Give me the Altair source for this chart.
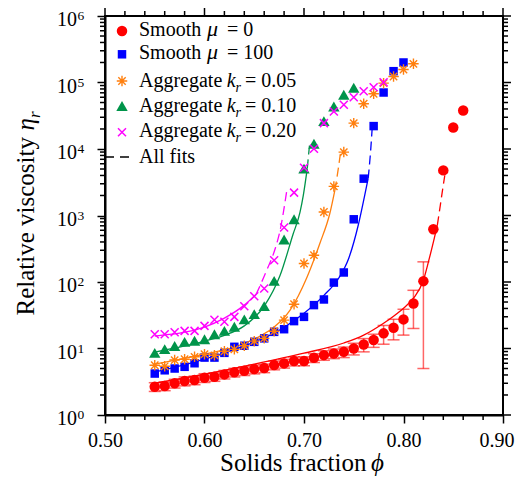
import altair as alt
import pandas as pd

FONT = "Liberation Serif"

# ---------------- data ----------------
phi_smooth0 = [0.55, 0.56, 0.57, 0.58, 0.59, 0.60, 0.61, 0.62, 0.63, 0.64, 0.65, 0.66,
               0.67, 0.68, 0.69, 0.70, 0.71, 0.72, 0.73, 0.74, 0.75, 0.76, 0.77, 0.78,
               0.79, 0.80, 0.81, 0.82, 0.83, 0.84, 0.85, 0.86]
eta_smooth0 = [2.66, 2.72, 2.99, 3.24, 3.35, 3.63, 3.76, 4.08, 4.38, 4.62, 4.9, 5.08,
               5.63, 5.97, 6.47, 6.5, 7.25, 7.95, 8.43, 8.9, 10.0, 11.5, 13.4, 16.9,
               20.5, 27.4, 47.5, 103, 621, 4770, 21100, 38000]
# error bars (+/-) for the first 28 points (0.55 ... 0.82)
err_smooth0 = [0.4, 0.4, 0.45, 0.5, 0.5, 0.55, 0.55, 0.6, 0.65, 0.7, 0.75, 0.75,
               0.85, 0.9, 1.0, 1.0, 1.1, 1.3, 1.4, 1.6, 2.0, 2.6, 3.0, 5.3,
               7.0, 11.5, 27.5, 98]

phi_smooth100 = [0.55, 0.56, 0.57, 0.58, 0.59, 0.60, 0.61, 0.62, 0.63, 0.64, 0.65, 0.66,
                 0.67, 0.68, 0.69, 0.70, 0.71, 0.72, 0.73, 0.74, 0.75, 0.76, 0.77, 0.78,
                 0.79, 0.80]
eta_smooth100 = [4.2, 4.7, 5.0, 5.3, 6.0, 7.3, 7.3, 8.6, 10.6, 11.0, 12.6, 14.2,
                 17.8, 19.5, 25.8, 29.9, 44.9, 54.6, 98, 139, 877, 3580, 22100, 70700,
                 148000, 200000]

phi_agg005 = [0.55, 0.56, 0.57, 0.58, 0.59, 0.60, 0.61, 0.62, 0.63, 0.64, 0.65, 0.66,
              0.67, 0.68, 0.69, 0.70, 0.71, 0.72, 0.73, 0.74, 0.75, 0.76, 0.77, 0.78,
              0.79, 0.80, 0.81]
eta_agg005 = [5.6, 5.4, 6.7, 6.9, 7.5, 8.2, 7.9, 9.1, 9.7, 11.0, 12.9, 14.2,
              18.2, 26.7, 46.4, 190, 253, 1130, 2740, 8980, 24500, 47900, 67600, 97700,
              123000, 157000, 191000]

phi_agg010 = [0.55, 0.56, 0.57, 0.58, 0.59, 0.60, 0.61, 0.62, 0.63, 0.64, 0.65, 0.66,
              0.67, 0.68, 0.69, 0.70, 0.71, 0.72, 0.73, 0.74, 0.75]
eta_agg010 = [8.6, 9.8, 10.9, 12.6, 13.1, 13.8, 16.4, 18.4, 21.2, 27.4, 32.9, 43.3,
              104, 435, 877, 5060, 12000, 26200, 43600, 65300, 83200]

phi_agg020 = [0.55, 0.56, 0.57, 0.58, 0.59, 0.60, 0.61, 0.62, 0.63, 0.64, 0.65, 0.66,
              0.67, 0.68, 0.69, 0.70, 0.71, 0.72, 0.73, 0.74, 0.75, 0.76, 0.77, 0.78]
eta_agg020 = [16.4, 16.4, 17.5, 18.4, 18.4, 21.9, 27.0, 25.2, 29.9, 43.3, 61, 80,
              212, 658, 2208, 5240, 10100, 24500, 36700, 46200, 60200, 74000, 85000, 101000]

# fitted curves (solid part, then dashed extrapolation)
fit_s0_phi = [0.55, 0.60, 0.65, 0.70, 0.74, 0.76, 0.78, 0.79, 0.80, 0.81, 0.82, 0.826, 0.8305, 0.834]
fit_s0_eta = [3.0, 4.1, 5.8, 8.5, 12.1, 15.9, 24, 30.6, 40.4, 57, 106, 228, 425, 715]
fit_s0_dash_phi = [0.834, 0.837, 0.8395, 0.8415]
fit_s0_dash_eta = [715, 1420, 2570, 4000]

fit_s100_phi = [0.55, 0.60, 0.65, 0.67, 0.685, 0.70, 0.72, 0.735, 0.745, 0.7545, 0.761, 0.7645]
fit_s100_eta = [4.42, 6.93, 12.5, 17, 23.4, 33.9, 63, 115, 228, 713, 2010, 3620]
fit_s100_dash_phi = [0.7645, 0.767, 0.7685]
fit_s100_dash_eta = [3620, 9530, 20400]

fit_a005_phi = [0.55, 0.60, 0.63, 0.656, 0.67, 0.686, 0.703, 0.716, 0.726, 0.731]
fit_a005_eta = [5.83, 8.24, 10.5, 15.4, 21, 37.7, 118, 383, 1080, 2390]
fit_a005_dash_phi = [0.731, 0.7345, 0.737]
fit_a005_dash_eta = [2390, 5110, 9530]

fit_a010_phi = [0.55, 0.60, 0.62, 0.64, 0.66, 0.676, 0.689, 0.696, 0.6993, 0.7033]
fit_a010_eta = [8.83, 12.9, 15.8, 21.9, 43.3, 126, 522, 1120, 2010, 5110]
fit_a010_dash_phi = [0.7033, 0.7055]
fit_a010_dash_eta = [5110, 11300]

fit_a020_phi = [0.55, 0.60, 0.62, 0.64, 0.652]
fit_a020_eta = [15.4, 21, 28.6, 44.9, 65.6]
fit_a020_dash_phi = [0.652, 0.6625, 0.671, 0.676, 0.6826]
fit_a020_dash_eta = [65.6, 150, 316, 600, 2310]

x_major = [0.50, 0.60, 0.70, 0.80, 0.90]
x_minor = [0.52, 0.54, 0.56, 0.58, 0.62, 0.64, 0.66, 0.68, 0.72, 0.74, 0.76, 0.78,
           0.82, 0.84, 0.86, 0.88]
y_major = [1, 10, 100, 1000, 10000, 100000, 1000000]
y_exponents = ["0", "1", "2", "3", "4", "5", "6"]
y_minor = [m * d for d in [1, 10, 100, 1000, 10000, 100000] for m in range(2, 10)]

# ---------------- styling ----------------
RED, BLUE, ORANGE, GREEN, MAGENTA = "#ff0000", "#0000ff", "#ff7f0e", "#00944a", "#ff00ff"
ASTERISK = "M-1,0L1,0M0,-1L0,1M-0.7,-0.7L0.7,0.7M-0.7,0.7L0.7,-0.7"
XSHAPE = "M-1,-1L1,1M-1,1L1,-1"
HLINE = "M-1,0L1,0"

W, H = 398, 399

xs = alt.Scale(domain=[0.5, 0.9], nice=False, zero=False)
ys = alt.Scale(type="log", domain=[1, 1e6], nice=False)
xax = alt.Axis(values=x_major, format=".2f", tickSize=8, tickWidth=1.5, tickColor="black",
               domainColor="black", domainWidth=2, labelFont=FONT, labelFontSize=20,
               labelColor="black", labelPadding=7, labelFlush=False, labelBound=False,
               labelAlign={"expr": "datum.value > 0.89 ? 'right' : 'center'"},
               labelOffset={"expr": "datum.value > 0.89 ? 11 : 0"},
               grid=False, title=None)
yax = alt.Axis(values=y_major, tickSize=8, tickWidth=1.5, tickColor="black",
               domainColor="black", domainWidth=2, labels=False, grid=False, title=None)


def X(f="phi"):
    return alt.X(f"{f}:Q", scale=xs, axis=xax)


def Y(f="eta"):
    return alt.Y(f"{f}:Q", scale=ys, axis=yax)


def pts(phi, eta):
    return pd.DataFrame({"phi": phi, "eta": eta})


layers = []

# fit lines
fits = [
    (fit_s0_phi, fit_s0_eta, fit_s0_dash_phi, fit_s0_dash_eta, RED),
    (fit_s100_phi, fit_s100_eta, fit_s100_dash_phi, fit_s100_dash_eta, BLUE),
    (fit_a005_phi, fit_a005_eta, fit_a005_dash_phi, fit_a005_dash_eta, ORANGE),
    (fit_a010_phi, fit_a010_eta, fit_a010_dash_phi, fit_a010_dash_eta, GREEN),
    (fit_a020_phi, fit_a020_eta, fit_a020_dash_phi, fit_a020_dash_eta, MAGENTA),
]
for fp, fe, dp, de, col in fits:
    layers.append(alt.Chart(pts(fp, fe)).mark_line(color=col, strokeWidth=1.3, interpolate="monotone")
                  .encode(x=X(), y=Y()))
    layers.append(alt.Chart(pts(dp, de)).mark_line(color=col, strokeWidth=1.3, interpolate="monotone",
                                                    strokeDash=[9, 5])
                  .encode(x=X(), y=Y()))

# error bars for smooth mu = 0
n_err = len(err_smooth0)
err_df = pd.DataFrame({
    "phi": phi_smooth0[:n_err],
    "lo": [v - e for v, e in zip(eta_smooth0[:n_err], err_smooth0)],
    "hi": [v + e for v, e in zip(eta_smooth0[:n_err], err_smooth0)],
})
layers.append(alt.Chart(err_df).mark_rule(color=RED, opacity=0.6, strokeWidth=1.5)
              .encode(x=X(), y=Y("lo"), y2="hi:Q"))
for f in ["lo", "hi"]:
    layers.append(alt.Chart(err_df).mark_point(shape=HLINE, size=144, filled=False, color=RED,
                                               opacity=0.6, strokeWidth=1.5)
                  .encode(x=X(), y=Y(f)))

# markers
series_marks = [
    (phi_smooth0, eta_smooth0, dict(shape="circle", filled=True, size=110, color=RED, opacity=1)),
    (phi_smooth100, eta_smooth100, dict(shape="square", filled=True, size=72, color=BLUE, opacity=1)),
    (phi_agg005, eta_agg005, dict(shape=ASTERISK, filled=False, size=110, color=ORANGE, strokeWidth=1.4, opacity=1)),
    (phi_agg010, eta_agg010, dict(shape="triangle-up", filled=True, size=130, color=GREEN, opacity=1)),
    (phi_agg020, eta_agg020, dict(shape=XSHAPE, filled=False, size=64, color=MAGENTA, strokeWidth=1.5, opacity=1)),
]
for p, e, style in series_marks:
    layers.append(alt.Chart(pts(p, e)).mark_point(**style).encode(x=X(), y=Y()))

# minor / mirrored ticks
tick = dict(color="black", strokeWidth=1.5)
xmin_df = pd.DataFrame({"t": x_minor})
xmaj_df = pd.DataFrame({"t": x_major})
ymin_df = pd.DataFrame({"t": y_minor})
ymaj_df = pd.DataFrame({"t": y_major})
layers += [
    alt.Chart(xmin_df).mark_rule(**tick).encode(x=X("t"), y=alt.value(H), y2=alt.value(H + 5)),
    alt.Chart(xmin_df).mark_rule(**tick).encode(x=X("t"), y=alt.value(0), y2=alt.value(-5)),
    alt.Chart(xmaj_df).mark_rule(**tick).encode(x=X("t"), y=alt.value(0), y2=alt.value(-8)),
    alt.Chart(ymin_df).mark_rule(**tick).encode(y=Y("t"), x=alt.value(0), x2=alt.value(-5)),
    alt.Chart(ymin_df).mark_rule(**tick).encode(y=Y("t"), x=alt.value(W), x2=alt.value(W + 5)),
    alt.Chart(ymaj_df).mark_rule(**tick).encode(y=Y("t"), x=alt.value(W), x2=alt.value(W + 8)),
]

# y tick labels 10^k
ylab_df = pd.DataFrame({"t": y_major, "e": y_exponents})
layers.append(alt.Chart(ylab_df).mark_text(font=FONT, fontSize=20, align="right", baseline="alphabetic",
                                           dy=10, color="black")
              .encode(y=Y("t"), x=alt.value(-28), text=alt.value("10")))
layers.append(alt.Chart(ylab_df).mark_text(font=FONT, fontSize=13.5, align="left", baseline="alphabetic",
                                           dy=4, color="black")
              .encode(y=Y("t"), x=alt.value(-27.5), text="e:N"))

one = pd.DataFrame({"a": [0]})


def txt(s, x, y, size=20, italic=False, align="left", angle=0):
    return (alt.Chart(one)
            .mark_text(font=FONT, fontSize=size, fontStyle="italic" if italic else "normal",
                       align=align, baseline="alphabetic", angle=angle, color="black")
            .encode(x=alt.value(x), y=alt.value(y), text=alt.value(s)))


def sym(y, style):
    st = {k: v for k, v in style.items()}
    return alt.Chart(one).mark_point(**st).encode(x=alt.value(17), y=alt.value(y))


# axis titles
layers += [
    txt("Solids fraction", 261.5, 455, size=25, align="right"),
    txt("\u03d5", 266, 455, size=25, italic=True),
    txt("Relative viscosity", -71, 121, size=25, align="right", angle=270),
    txt("\u03b7", -71, 114.5, size=25, italic=True, align="left", angle=270),
    txt("r", -65, 102, size=17, italic=True, align="left", angle=270),
]

# legend
sym_y = [15, 38.3, 65, 90, 116.3]
base_y = [20, 43.3, 71.3, 95.7, 121.3]
for (p, e, style), yy in zip(series_marks, sym_y):
    layers.append(sym(yy, style))
layers += [
    txt("Smooth", 34, base_y[0]), txt("\u03bc", 102, base_y[0], size=22, italic=True), txt("= 0", 122, base_y[0]),
    txt("Smooth", 34, base_y[1]), txt("\u03bc", 102, base_y[1], size=22, italic=True), txt("= 100", 122, base_y[1]),
]
for yy, val in zip(base_y[2:], ["= 0.05", "= 0.10", "= 0.20"]):
    layers += [txt("Aggregate", 34, yy), txt("k", 121.7, yy, italic=True),
               txt("r", 130.5, yy + 5, size=14, italic=True), txt(val, 140, yy)]
layers.append(alt.Chart(one).mark_rule(color="black", strokeWidth=1.5, strokeDash=[9, 6])
              .encode(x=alt.value(0), x2=alt.value(26), y=alt.value(141)))
layers.append(txt("All fits", 34, 146.7))

chart = (alt.layer(*layers)
         .properties(width=W, height=H, autosize=alt.AutoSizeParams(type="none"),
                     padding={"left": 97, "top": 8, "right": 12, "bottom": 62},
                     background="white")
         .configure_view(stroke="black", strokeWidth=2))

chart.save("out.html", embed_options={"renderer": "svg", "actions": False})
